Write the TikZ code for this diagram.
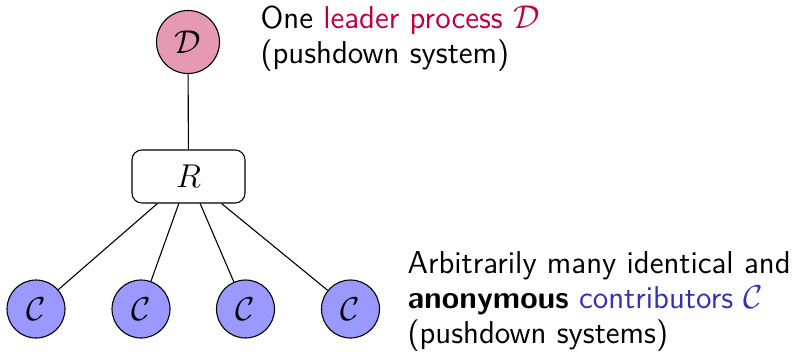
\documentclass[tikz,border=0pt]{standalone}
\usepackage{amsmath}
\renewcommand{\familydefault}{\sfdefault}
\definecolor{leadercol}{rgb}{0.75,0,0.25}
\definecolor{contribtext}{rgb}{0.2,0.2,0.7}
\definecolor{contribfill}{rgb}{0.6,0.6,1}
\tikzset{
  leadernode/.style={circle, draw, fill=leadercol!40, minimum size=63*0.3636pt, inner sep=0pt, font=\fontsize{12}{14}\selectfont},
  contribnode/.style={circle, draw, fill=contribfill, minimum size=58*0.3636pt, inner sep=0pt, font=\fontsize{12}{14}\selectfont},
  resnode/.style={rectangle, rounded corners=3.6pt, draw, fill=white, minimum width=113*0.3636pt, minimum height=53*0.3636pt, inner sep=0pt, font=\fontsize{12}{14}\selectfont},
  txt/.style={anchor=base west, inner sep=0pt, font=\fontsize{11.5}{13}\selectfont},
  link/.style={draw, line width=0.4pt}
}
\begin{document}
\begin{tikzpicture}[x=0.3636pt, y=-0.3636pt]
\useasboundingbox (0,0) rectangle (794,361);
\node[leadernode] (D) at (188,42) {$\mathcal{D}$};
\node[resnode] (R) at (188.5,176.5) {$R$};
\node[contribnode] (C1) at (36,309) {$\mathcal{C}$};
\node[contribnode] (C2) at (141,309) {$\mathcal{C}$};
\node[contribnode] (C3) at (245.5,309) {$\mathcal{C}$};
\node[contribnode] (C4) at (350.5,309) {$\mathcal{C}$};
\draw[link] (D) -- (R);
\foreach \c in {C1,C2,C3,C4} \draw[link] (R) -- (\c);
\node[txt] (t1) at (260,28) {One \textcolor{leadercol}{leader process $\mathcal{D}$}};
\node[txt] (t2) at (260,63) {(pushdown system)};
\node[txt] (b1) at (407,273) {Arbitrarily many identical and};
\node[txt] (b2) at (407,308) {\textbf{anonymous} \textcolor{contribtext}{contributors $\mathcal{C}$}};
\node[txt] (b3) at (407,343) {(pushdown systems)};
\end{tikzpicture}
\end{document}
